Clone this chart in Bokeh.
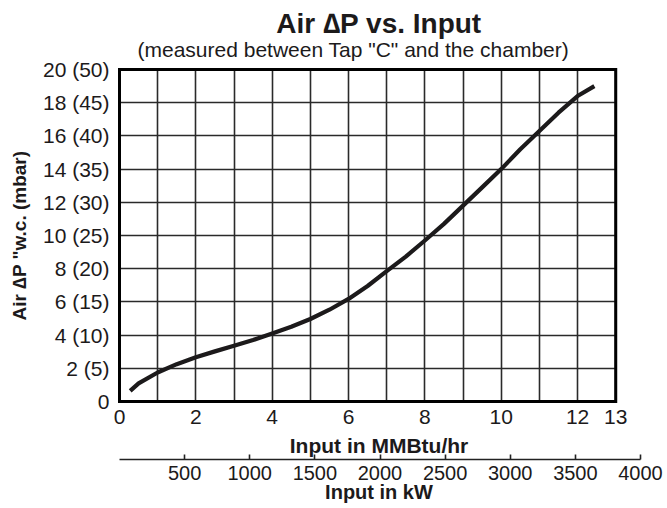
from bokeh.plotting import figure
from bokeh.models import Range1d, LinearAxis, FixedTicker, Grid, Title
from bokeh.embed import file_html
from bokeh.resources import INLINE

# ---- data ----
input_mmbtu = [0.28, 0.5, 1, 1.5, 2, 2.5, 3, 3.5, 4, 4.5, 5, 5.5, 6, 6.5, 7,
               7.5, 8, 8.5, 9, 9.5, 10, 10.5, 11, 11.5, 12, 12.44]
air_dp_wc = [0.64, 1.09, 1.75, 2.25, 2.66, 3.02, 3.36, 3.7, 4.1, 4.5, 4.97, 5.53,
             6.18, 6.96, 7.85, 8.73, 9.7, 10.7, 11.8, 12.9, 14.0, 15.2, 16.3,
             17.4, 18.4, 19.0]

x_tick_values = [0, 2, 4, 6, 8, 10, 12, 13]
x_grid_values = [0, 1, 2, 3, 4, 5, 6, 7, 8, 9, 10, 11, 12, 13]
y_tick_values = [0, 2, 4, 6, 8, 10, 12, 14, 16, 18, 20]
y_tick_labels = ["0", "2 (5)", "4 (10)", "6 (15)", "8 (20)", "10 (25)",
                 "12 (30)", "14 (35)", "16 (40)", "18 (45)", "20 (50)"]
kw_tick_values = [500, 1000, 1500, 2000, 2500, 3000, 3500, 4000]

KW_PER_MMBTU = 293.07
X_MAX = 13
Y_MAX = 20
KW_MAX = 4000
X_PAD = 0.0524   # small margin so the frame border is not clipped
Y_PAD = 0.12

TITLE = "Air \u2206P vs. Input"
SUBTITLE = '(measured between Tap "C" and the chamber)'
Y_LABEL = 'Air \u2206P "w.c. (mbar)'
X_LABEL = "Input in MMBtu/hr"
KW_LABEL = "Input in kW"

FONT = "Liberation Sans"
INK = "#1c1a1b"
GRID = "#2a2a2a"

p = figure(width=667, height=508, output_backend="svg", toolbar_location=None,
           x_range=Range1d(-X_PAD, KW_MAX / KW_PER_MMBTU),
           y_range=Range1d(-Y_PAD, Y_MAX + Y_PAD),
           min_border_left=117, min_border_right=27, min_border_top=67,
           min_border_bottom=105)
p.outline_line_color = None
p.background_fill_color = "white"
p.border_fill_color = "white"

# titles: subtitle first (closest to the chart), main title above it
p.add_layout(Title(text=SUBTITLE, text_font=FONT, text_font_size="21px",
                   text_font_style="normal", text_color=INK, align="left",
                   offset=20, vertical_align="bottom", standoff=14), "above")
p.add_layout(Title(text=TITLE, text_font=FONT, text_font_size="28px",
                   text_font_style="bold", text_color=INK, align="center",
                   vertical_align="bottom", standoff=-20), "above")

# grid
p.xgrid.ticker = FixedTicker(ticks=x_grid_values)
p.xgrid.bounds = (0, X_MAX)
p.ygrid.ticker = FixedTicker(ticks=y_tick_values)
p.ygrid.bounds = (0, Y_MAX)
for g in (p.xgrid, p.ygrid):
    g.grid_line_color = GRID
    g.grid_line_width = 1.6
    g.grid_line_alpha = 1.0
if "cross_bounds" in Grid.properties():
    p.ygrid.cross_bounds = (0, X_MAX)
    p.xgrid.cross_bounds = (0, Y_MAX)
else:
    p.xgrid.visible = False
    p.ygrid.visible = False
    p.segment(x0=[0] * len(y_tick_values), y0=y_tick_values,
              x1=[X_MAX] * len(y_tick_values), y1=y_tick_values,
              line_color=GRID, line_width=1.6)
    p.segment(x0=x_grid_values, y0=[0] * len(x_grid_values),
              x1=x_grid_values, y1=[Y_MAX] * len(x_grid_values),
              line_color=GRID, line_width=1.6)

# frame border around the chart area
p.quad(left=[0], right=[X_MAX], bottom=[0], top=[Y_MAX], fill_color=None,
       line_color="black", line_width=3, line_join="miter")

# curve
p.line(input_mmbtu, air_dp_wc, line_color=INK, line_width=4.2, line_join="round")

# x axis (MMBtu/hr)
xa = p.xaxis[0]
xa.ticker = FixedTicker(ticks=x_tick_values)
xa.bounds = (0, X_MAX)
xa.axis_line_color = None
xa.major_tick_out = 0
xa.major_tick_in = 0
xa.minor_tick_out = 0
xa.minor_tick_in = 0
xa.major_label_standoff = 6
xa.major_label_text_font = FONT
xa.major_label_text_font_size = "21px"
xa.major_label_text_color = INK
xa.axis_label = X_LABEL
xa.axis_label_text_font = FONT
xa.axis_label_text_font_size = "21px"
xa.axis_label_text_font_style = "bold"
xa.axis_label_text_color = INK
xa.axis_label_standoff = 7

# kW axis
p.extra_x_ranges = {"kw": Range1d(-X_PAD * KW_PER_MMBTU, KW_MAX)}
ka = LinearAxis(x_range_name="kw", ticker=FixedTicker(ticks=kw_tick_values))
ka.bounds = (0, KW_MAX)
ka.axis_line_color = "#222222"
ka.axis_line_width = 1.6
ka.major_tick_in = 5
ka.major_tick_out = 0
ka.major_tick_line_width = 1.6
ka.major_tick_line_color = "#222222"
ka.minor_tick_in = 0
ka.minor_tick_out = 0
ka.major_label_standoff = 6
ka.major_label_text_font = FONT
ka.major_label_text_font_size = "20px"
ka.major_label_text_color = INK
ka.axis_label = KW_LABEL
ka.axis_label_text_font = FONT
ka.axis_label_text_font_size = "20px"
ka.axis_label_text_font_style = "bold"
ka.axis_label_text_color = INK
ka.axis_label_standoff = -2
p.add_layout(ka, "below")

# y axis
ya = p.yaxis[0]
ya.ticker = FixedTicker(ticks=y_tick_values)
ya.major_label_overrides = dict(zip(y_tick_values, y_tick_labels))
ya.axis_line_color = None
ya.major_tick_out = 0
ya.major_tick_in = 0
ya.minor_tick_out = 0
ya.minor_tick_in = 0
ya.major_label_standoff = 8
ya.major_label_text_font = FONT
ya.major_label_text_font_size = "21px"
ya.major_label_text_color = INK
ya.axis_label = Y_LABEL
ya.axis_label_text_font = FONT
ya.axis_label_text_font_size = "19px"
ya.axis_label_text_font_style = "bold"
ya.axis_label_text_color = INK
ya.axis_label_standoff = 10

open("out.html", "w").write(file_html(p, INLINE))
